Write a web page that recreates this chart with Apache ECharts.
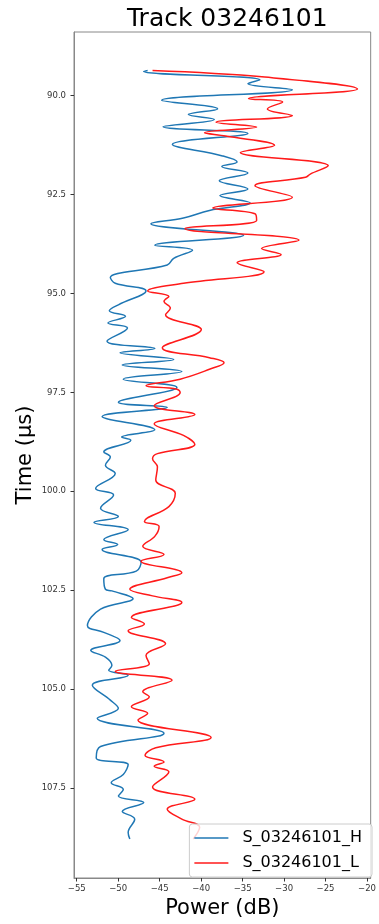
<!DOCTYPE html>
<html>
<head>
<meta charset="utf-8">
<script src="https://cdn.jsdelivr.net/npm/echarts@6/dist/echarts.min.js"></script>
<style>
  html, body { margin: 0; padding: 0; background: #fff; }
  #chart { width: 379px; height: 924px; }
</style>
</head>
<body>
<div id="chart"></div>
<script>
// S_03246101_H (blue): time in us, power in dB
const timeH = [89.365, 89.39, 89.60, 89.70, 89.85, 90.118, 90.334, 90.477, 90.602, 90.785,
  90.954, 91.23, 91.523, 91.674, 91.789, 91.957, 92.15, 92.36, 92.527, 92.71,
  92.903, 93.094, 93.237, 93.53, 93.78, 93.907, 94.115, 94.283, 94.6, 94.743,
  94.936, 95.287, 95.438, 95.579, 95.747, 95.872, 96.206, 96.391, 96.5, 96.668,
  96.808, 96.976, 97.169, 97.378, 97.754, 97.88, 98.113, 98.449, 98.632, 98.715,
  99.009, 99.134, 99.343, 99.553, 99.93, 100.095, 100.43, 100.64, 100.79, 100.974,
  101.225, 101.35, 101.475, 101.794, 102.02, 102.213, 102.479, 102.52, 102.715, 102.98,
  103.4, 103.568, 103.777, 104.027, 104.196, 104.404, 104.53, 104.655, 104.906, 105.282,
  105.49, 105.742, 106.118, 106.454, 106.745, 106.913, 107.164, 107.372, 107.54, 107.709,
  107.874, 108.1, 108.293, 108.627, 108.795];
const powerH = [-46.45, -46.92, -32.92, -34.36, -29.0, -44.76, -38.01, -41.54, -38.41, -44.6,
  -34.36, -43.47, -37.42, -35.66, -37.51, -34.36, -37.82, -34.36, -37.74, -34.09,
  -39.0, -42.13, -46.06, -34.88, -45.59, -41.04, -43.31, -44.09, -50.95, -50.36,
  -46.65, -49.98, -51.07, -49.12, -51.24, -48.88, -51.35, -45.59, -49.78, -43.31,
  -49.51, -42.33, -49.39, -42.92, -49.98, -44.09, -51.94, -45.59, -49.59, -48.48,
  -51.74, -50.95, -51.54, -50.36, -52.72, -50.56, -52.13, -49.98, -52.92, -48.8,
  -51.74, -50.06, -51.94, -47.24, -47.82, -51.74, -51.54, -50.76, -48.21, -52.13,
  -53.71, -51.74, -49.78, -53.31, -51.54, -50.76, -51.15, -48.8, -53.12, -50.95,
  -49.98, -52.53, -44.48, -52.13, -52.65, -48.8, -49.39, -50.84, -49.39, -49.98,
  -46.92, -49.51, -48.01, -48.8, -48.6];

// S_03246101_L (red)
const timeL = [89.365, 89.53, 89.832, 90.075, 90.158, 90.334, 90.502, 90.67, 90.795, 90.936,
  91.021, 91.255, 91.438, 91.774, 91.982, 92.065, 92.276, 92.567, 92.843, 92.986,
  93.154, 93.363, 93.656, 93.864, 94.015, 94.223, 94.449, 94.743, 94.936, 95.077,
  95.202, 95.37, 95.538, 95.915, 96.374, 96.625, 96.75, 96.918, 97.169, 97.335,
  97.42, 97.503, 97.837, 98.063, 98.299, 98.59, 98.816, 99.051, 99.177, 99.385,
  99.719, 100.055, 100.389, 100.765, 100.891, 101.142, 101.393, 101.601, 101.769, 102.063,
  102.188, 102.48, 102.647, 102.815, 103.192, 103.358, 103.526, 103.86, 104.153, 104.362,
  104.555, 104.78, 105.074, 105.2, 105.45, 105.616, 105.785, 106.225, 106.485, 106.68,
  106.845, 106.955, 107.095, 107.48, 107.79, 108.04, 108.29, 108.5, 108.795];
const powerL = [-45.86, -32.33, -21.15, -34.29, -30.18, -32.01, -29.0, -38.21, -33.31, -39.59,
  -37.04, -31.15, -35.27, -24.68, -26.84, -27.42, -33.51, -29.0, -38.6, -33.51,
  -33.31, -41.94, -28.21, -32.72, -30.36, -35.66, -32.41, -42.13, -46.45, -43.89,
  -44.48, -43.71, -44.29, -39.98, -44.68, -39.0, -37.24, -39.0, -42.53, -46.65,
  -42.92, -42.53, -45.66, -40.76, -45.66, -42.13, -40.76, -45.27, -45.86, -45.27,
  -45.47, -43.12, -43.89, -46.84, -45.07, -45.59, -47.04, -44.48, -47.24, -42.33,
  -44.09, -48.6, -45.86, -42.33, -48.41, -46.84, -48.8, -44.29, -46.65, -46.25,
  -50.36, -43.51, -47.04, -46.25, -48.41, -46.45, -47.62, -38.8, -45.47, -46.76,
  -44.48, -45.66, -43.89, -45.86, -40.76, -44.09, -42.33, -40.18, -40.95];

const xTicks = [-55, -50, -45, -40, -35, -30, -25, -20];
const yTicks = [90, 92.5, 95, 97.5, 100, 102.5, 105, 107.5];

const font = 'DejaVu Sans';
const minus = v => String(v).replace('-', '\u2212');
// thin bar used as the legend key, like a short line sample
const lineIcon = 'path://M0,0 L34,0 L34,1.6 L0,1.6 Z';

const chart = echarts.init(document.getElementById('chart'));
chart.setOption({
  animation: false,
  backgroundColor: '#fff',
  title: {
    text: 'Track 03246101',
    left: 122,
    top: 2,
    textStyle: { fontFamily: font, fontSize: 25, fontWeight: 'normal', color: '#000' }
  },
  grid: {
    left: 74, right: 1, top: 32, bottom: 40,
    show: true, borderColor: '#888', borderWidth: 1
  },
  legend: {
    orient: 'vertical',
    right: 7,
    bottom: 47,
    padding: [6, 10, 6, 5],
    itemWidth: 34,
    itemHeight: 16,
    itemGap: 9,
    icon: lineIcon,
    symbolKeepAspect: true,
    backgroundColor: 'rgba(255,255,255,0.8)',
    borderColor: '#ccc',
    borderWidth: 1,
    borderRadius: 3,
    textStyle: { fontFamily: font, fontSize: 16, color: '#000', padding: [0, 0, 0, 9] },
    data: ['S_03246101_H', 'S_03246101_L']
  },
  xAxis: {
    type: 'value',
    min: -55.33,
    max: -19.56,
    name: 'Power (dB)',
    nameLocation: 'middle',
    nameGap: 20,
    nameMoveOverlap: false,
    nameTextStyle: { fontFamily: font, fontSize: 21, color: '#000' },
    axisLine: { show: true, lineStyle: { color: '#888' } },
    axisTick: { show: true, length: 3.5, lineStyle: { color: '#333' }, customValues: xTicks },
    axisLabel: { fontFamily: font, fontSize: 8.5, color: '#333', margin: 6,
      customValues: xTicks, formatter: minus },
    splitLine: { show: false }
  },
  yAxis: {
    type: 'value',
    inverse: true,
    min: 88.39,
    max: 109.78,
    name: 'Time (µs)',
    nameLocation: 'middle',
    nameGap: 38,
    nameMoveOverlap: false,
    nameTextStyle: { fontFamily: font, fontSize: 21, color: '#000' },
    axisLine: { show: true, lineStyle: { color: '#888' } },
    axisTick: { show: true, length: 3.5, lineStyle: { color: '#333' }, customValues: yTicks },
    axisLabel: { fontFamily: font, fontSize: 8.5, color: '#333', margin: 8,
      customValues: yTicks, formatter: v => v.toFixed(1) },
    splitLine: { show: false }
  },
  series: [
    {
      name: 'S_03246101_H',
      type: 'line',
      symbol: 'none',
      smooth: 0.4,
      lineStyle: { color: '#1f77b4', width: 1.5 },
      itemStyle: { color: '#1f77b4' },
      data: powerH.map((p, i) => [p, timeH[i]])
    },
    {
      name: 'S_03246101_L',
      type: 'line',
      symbol: 'none',
      smooth: 0.4,
      lineStyle: { color: '#ff1a1a', width: 1.5 },
      itemStyle: { color: '#ff1a1a' },
      data: powerL.map((p, i) => [p, timeL[i]])
    }
  ]
});
</script>
</body>
</html>
